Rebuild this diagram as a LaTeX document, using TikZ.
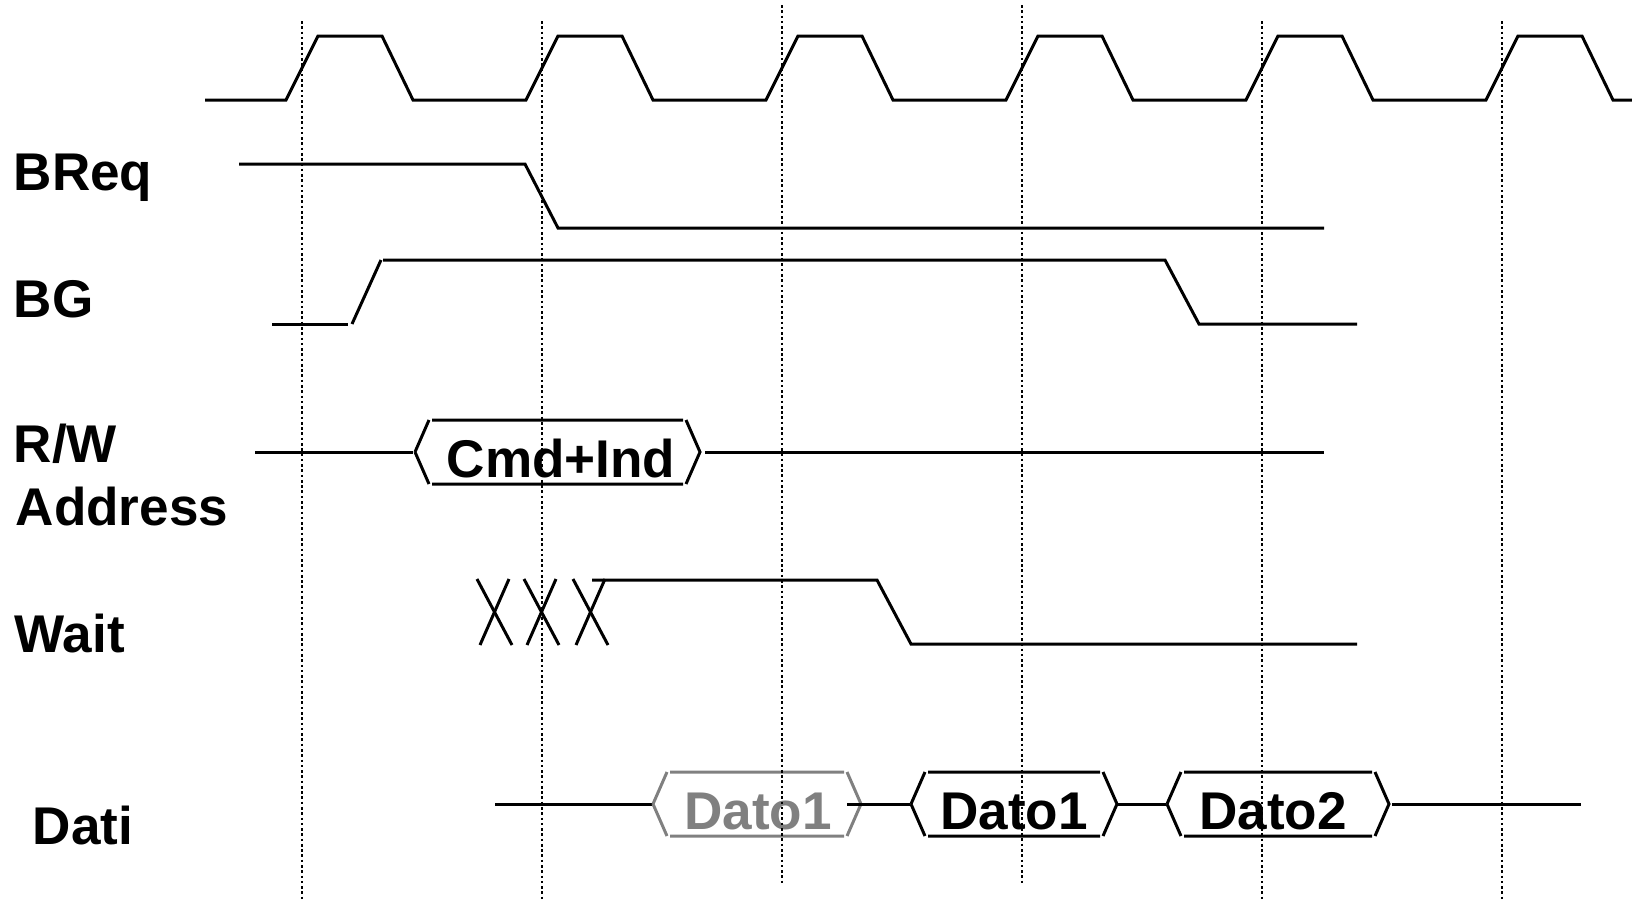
\documentclass[tikz,border=0pt]{standalone}
\usepackage{fontspec}
\setmainfont{Liberation Sans}
\definecolor{ghost}{RGB}{128,128,128}
\newcommand\hexbus[4]{%
  \draw[#4] (#1,#3) -- ++(14,-32) ++(3,0) -- ({#2-17},{#3-32}) ++(3,0) -- (#2,#3)
    -- ++(-14,32) ++(-3,0) -- ({#1+17},{#3+32}) ++(-3,0) -- (#1,#3);}
\begin{document}
\begin{tikzpicture}[x=0.01cm,y=-0.01cm,
  sig/.style={line width=0.85pt,line join=miter},
  guide/.style={line width=0.8pt,dash pattern=on 0.75pt off 0.75pt},
  lbl/.style={inner sep=0pt,anchor=base west,font=\bfseries\fontsize{15.1}{17}\selectfont},
  busl/.style={inner sep=0pt,anchor=base,font=\bfseries\fontsize{15.1}{17}\selectfont}]
\useasboundingbox (0,0) rectangle (1632,899);
% labels
\node[lbl] (lbreq) at (13,190) {BReq};
\node[lbl] (lbg) at (13,317) {BG};
\node[lbl] (lrw) at (13,462) {R/W};
\node[lbl] (laddr) at (15,525) {Address};
\node[lbl] (lwait) at (14,652) {Wait};
\node[lbl] (ldati) at (32,844) {Dati};
% clock
\draw[sig] (205,100) -- (286,100) -- (318,36) -- (382,36) -- (413,100)
  -- (526,100) -- (558,36) -- (622,36) -- (653,100)
  -- (766,100) -- (798,36) -- (862,36) -- (893,100)
  -- (1006,100) -- (1038,36) -- (1102,36) -- (1133,100)
  -- (1246,100) -- (1278,36) -- (1342,36) -- (1373,100)
  -- (1486,100) -- (1518,36) -- (1582,36) -- (1613,100) -- (1632,100);
% BReq
\draw[sig] (239,164) -- (525,164) -- (558,228) -- (1324,228);
% BG
\draw[sig] (272,324) -- (348,324);
\draw[sig] (352,324) -- (381,260);
\draw[sig] (383,260) -- (1165,260) -- (1199,324) -- (1357,324);
% R/W Address
\draw[sig] (255,452) -- (413,452);
\hexbus{415}{700}{452}{sig}
\node[busl] (cmd) at (561,477) {Cmd+Ind};
\draw[sig] (705,452) -- (1324,452);
% Wait
\foreach \x in {477,524,573}{
  \draw[sig] (\x,579) -- ({\x+35},645);
  \draw[sig] ({\x+32},579) -- ({\x+3},645);
}
\draw[sig] (592,580) -- (877,580) -- (911,644) -- (1357,644);
% Dati
\draw[sig] (495,804) -- (653,804);
\hexbus{653}{861}{804}{sig,draw=ghost}
\node[busl,text=ghost] (d1g) at (758,829) {Dato1};
\draw[sig] (847,804) -- (910,804);
\hexbus{911}{1117}{804}{sig}
\node[busl] (d1) at (1014,829) {Dato1};
\draw[sig] (1117,804) -- (1166,804);
\hexbus{1167}{1389}{804}{sig}
\node[busl] (d2) at (1273,829) {Dato2};
\draw[sig] (1392,804) -- (1581,804);
% guides
\foreach \x in {302,542,1262,1502} \draw[guide] (\x,21) -- (\x,899);
\foreach \x in {782,1022} \draw[guide] (\x,5) -- (\x,883);
\end{tikzpicture}
\end{document}
